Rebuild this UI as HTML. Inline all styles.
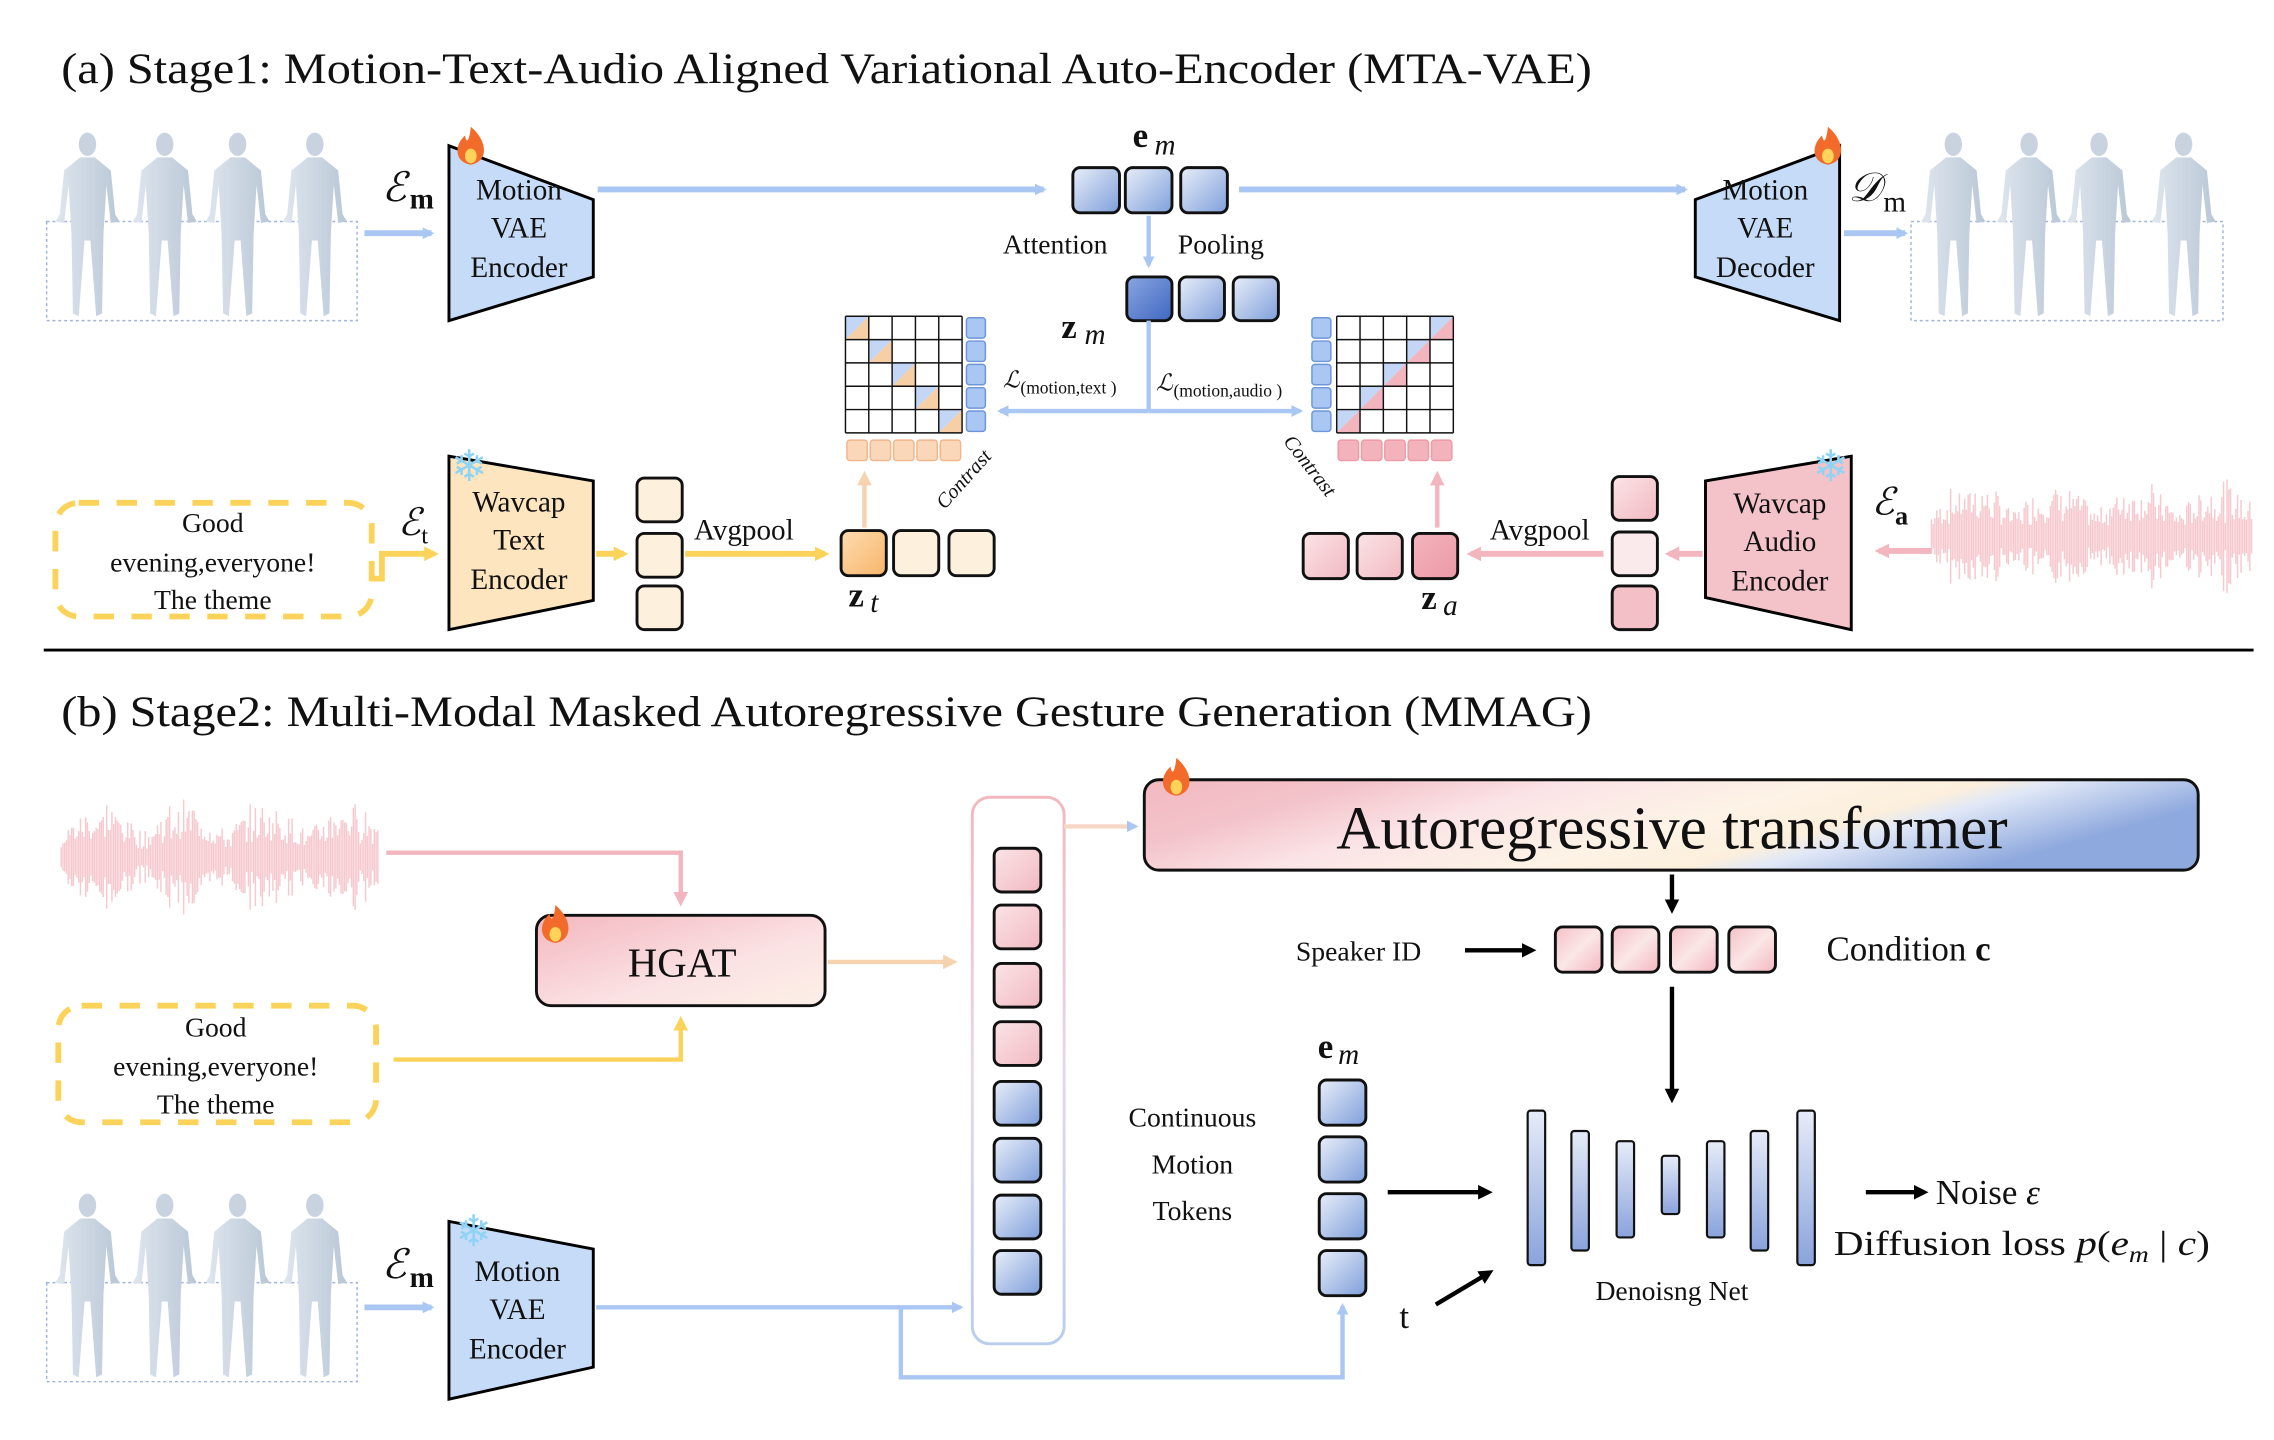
<!DOCTYPE html>
<html><head><meta charset="utf-8"><style>
html,body{margin:0;padding:0;background:#fff;}
svg{display:block;}
text{font-family:"Liberation Serif","DejaVu Serif",serif;fill:#111;}
</style></head><body>
<svg id="s" width="2274" height="1440" viewBox="0 0 1560 988" preserveAspectRatio="none" xmlns="http://www.w3.org/2000/svg" font-family="Liberation Serif, serif">
<defs>
<linearGradient id="gb" x1="0" y1="0" x2="1" y2="1"><stop offset="0" stop-color="#e8eef9"/><stop offset="1" stop-color="#7f9fdb"/></linearGradient>
<linearGradient id="gbd" x1="0" y1="0" x2="1" y2="1"><stop offset="0" stop-color="#8aa6e0"/><stop offset="1" stop-color="#3f67c2"/></linearGradient>
<linearGradient id="gbar" x1="0" y1="0" x2="0" y2="1"><stop offset="0" stop-color="#e6ecf8"/><stop offset="1" stop-color="#8aa3dc"/></linearGradient>
<linearGradient id="go" x1="0" y1="0" x2="1" y2="1"><stop offset="0" stop-color="#fef2e2"/><stop offset="1" stop-color="#fbd9ad"/></linearGradient>
<linearGradient id="god" x1="0" y1="0" x2="1" y2="1"><stop offset="0" stop-color="#fddcb0"/><stop offset="1" stop-color="#f8b56a"/></linearGradient>
<linearGradient id="gp" x1="0" y1="0" x2="1" y2="1"><stop offset="0" stop-color="#fbe4e7"/><stop offset="1" stop-color="#f1b9c1"/></linearGradient>
<linearGradient id="gpd" x1="0" y1="0" x2="1" y2="1"><stop offset="0" stop-color="#f4b5bd"/><stop offset="1" stop-color="#ec98a5"/></linearGradient>
<linearGradient id="gc" x1="0" y1="0" x2="1" y2="1"><stop offset="0" stop-color="#f5c0c8"/><stop offset="0.5" stop-color="#fbe6e6"/><stop offset="1" stop-color="#f3b7c0"/></linearGradient>
<linearGradient id="gh" x1="0" y1="0" x2="1" y2="1"><stop offset="0" stop-color="#f3b7bf"/><stop offset="0.6" stop-color="#fbe2e4"/><stop offset="1" stop-color="#fcefe6"/></linearGradient>
<linearGradient id="gar" x1="0" y1="0" x2="1" y2="0.3"><stop offset="0" stop-color="#f3b9c1"/><stop offset="0.2" stop-color="#f3c3ca"/><stop offset="0.38" stop-color="#fbe4e7"/><stop offset="0.6" stop-color="#fdf3e6"/><stop offset="0.74" stop-color="#fcefdc"/><stop offset="0.8" stop-color="#e1e8f7"/><stop offset="1" stop-color="#8ea9de"/></linearGradient>
<linearGradient id="gtall" x1="0" y1="0" x2="0" y2="1"><stop offset="0" stop-color="#f3b7bf"/><stop offset="0.5" stop-color="#e6d8ea"/><stop offset="1" stop-color="#b9cdee"/></linearGradient>
<linearGradient id="gman" x1="0" y1="0" x2="1" y2="0"><stop offset="0" stop-color="#dfe6ee"/><stop offset="1" stop-color="#b9c7d6"/></linearGradient>
<marker id="ab" markerWidth="8" markerHeight="8" refX="6" refY="4" orient="auto" markerUnits="userSpaceOnUse" viewBox="0 0 8 8"><path d="M0,0 L8,4 L0,8 z" fill="#a9c7f2"/></marker>
<marker id="ay" markerWidth="10" markerHeight="10" refX="7" refY="5" orient="auto" markerUnits="userSpaceOnUse"><path d="M0,0 L10,5 L0,10 z" fill="#fbd35a"/></marker>
<marker id="ap" markerWidth="10" markerHeight="10" refX="7" refY="5" orient="auto" markerUnits="userSpaceOnUse"><path d="M0,0 L10,5 L0,10 z" fill="#f3b5be"/></marker>
<marker id="ao" markerWidth="10" markerHeight="10" refX="7" refY="5" orient="auto" markerUnits="userSpaceOnUse"><path d="M0,0 L10,5 L0,10 z" fill="#f7d2ae"/></marker>
<marker id="ak" markerWidth="10" markerHeight="10" refX="7" refY="5" orient="auto" markerUnits="userSpaceOnUse"><path d="M0,0 L10,5 L0,10 z" fill="#000"/></marker>
<g id="man">
<ellipse cx="0" cy="-56" rx="6" ry="8" fill="#c9d3df"/>
<path d="M-5,-47 L5,-47 L16,-38 L19,-8 L22,-3 L16,-2 L13,-28 L11,5 L10,60 L6,62 L2,10 L-2,10 L-6,62 L-10,60 L-11,5 L-13,-28 L-16,-2 L-22,-3 L-19,-8 L-16,-38 z" fill="url(#gman)"/>
</g>
</defs>
<g id="wave"></g>

<text x="42" y="57" font-size="30" textLength="1050" lengthAdjust="spacingAndGlyphs">(a) Stage1: Motion-Text-Audio Aligned Variational Auto-Encoder (MTA-VAE)</text>
<line x1="30" y1="446" x2="1546" y2="446" stroke="#000" stroke-width="2"/>
<text x="42" y="498" font-size="30" textLength="1050" lengthAdjust="spacingAndGlyphs">(b) Stage2: Multi-Modal Masked Autoregressive Gesture Generation (MMAG)</text>

<rect x="32" y="152" width="213" height="68" fill="none" stroke="#9fb3dc" stroke-dasharray="2,2"/>
<use href="#man" x="60" y="155"/><use href="#man" x="113" y="155"/><use href="#man" x="163" y="155"/><use href="#man" x="216" y="155"/>
<rect x="1311" y="152" width="214" height="68" fill="none" stroke="#9fb3dc" stroke-dasharray="2,2"/>
<use href="#man" x="1340" y="155"/><use href="#man" x="1392" y="155"/><use href="#man" x="1440" y="155"/><use href="#man" x="1498" y="155"/>
<rect x="32" y="880" width="213" height="68" fill="none" stroke="#9fb3dc" stroke-dasharray="2,2"/>
<use href="#man" x="60" y="883"/><use href="#man" x="113" y="883"/><use href="#man" x="163" y="883"/><use href="#man" x="216" y="883"/>

<line x1="250" y1="160" x2="296" y2="160" stroke="#a9c7f2" stroke-width="4" marker-end="url(#ab)"/>
<text x="262" y="138" font-size="28" font-style="italic">ℰ</text><text x="281" y="143" font-size="20" font-weight="bold">m</text>
<polygon points="308,100 407,137 407,190 308,220" fill="#c6dbf7" stroke="#000" stroke-width="2"/>
<text x="356" y="137" font-size="20" text-anchor="middle">Motion</text>
<text x="356" y="163" font-size="20" text-anchor="middle">VAE</text>
<text x="356" y="190" font-size="20" text-anchor="middle">Encoder</text>
<line x1="410" y1="130" x2="716" y2="130" stroke="#a9c7f2" stroke-width="4" marker-end="url(#ab)"/>
<text x="777" y="101" font-size="24" font-weight="bold">e</text><text x="792" y="106" font-size="20" font-style="italic">m</text>
<rect x="736" y="115" width="32" height="31" rx="5" fill="url(#gb)" stroke="#111" stroke-width="2"/>
<rect x="772" y="115" width="32" height="31" rx="5" fill="url(#gb)" stroke="#111" stroke-width="2"/>
<rect x="810" y="115" width="32" height="31" rx="5" fill="url(#gb)" stroke="#111" stroke-width="2"/>
<line x1="850" y1="130" x2="1156" y2="130" stroke="#a9c7f2" stroke-width="4" marker-end="url(#ab)"/>
<polygon points="1163,137 1262,100 1262,220 1163,190" fill="#c6dbf7" stroke="#000" stroke-width="2"/>
<text x="1211" y="137" font-size="20" text-anchor="middle">Motion</text>
<text x="1211" y="163" font-size="20" text-anchor="middle">VAE</text>
<text x="1211" y="190" font-size="20" text-anchor="middle">Decoder</text>
<text x="1268" y="138" font-size="28" font-style="italic">𝒟</text><text x="1292" y="145" font-size="20">m</text>
<line x1="1265" y1="160" x2="1307" y2="160" stroke="#a9c7f2" stroke-width="4" marker-end="url(#ab)"/>
<text x="688" y="174" font-size="19">Attention</text>
<text x="808" y="174" font-size="19">Pooling</text>
<line x1="788" y1="148" x2="788" y2="182" stroke="#a9c7f2" stroke-width="3" marker-end="url(#ab)"/>
<rect x="773" y="190" width="31" height="30" rx="5" fill="url(#gbd)" stroke="#111" stroke-width="2"/>
<rect x="809" y="190" width="31" height="30" rx="5" fill="url(#gb)" stroke="#111" stroke-width="2"/>
<rect x="846" y="190" width="31" height="30" rx="5" fill="url(#gb)" stroke="#111" stroke-width="2"/>
<text x="728" y="232" font-size="24" font-weight="bold">z</text><text x="744" y="236" font-size="20" font-style="italic">m</text>
<line x1="788" y1="220" x2="788" y2="282" stroke="#a9c7f2" stroke-width="3"/>
<line x1="788" y1="282" x2="686" y2="282" stroke="#a9c7f2" stroke-width="3" marker-end="url(#ab)"/>
<line x1="788" y1="282" x2="892" y2="282" stroke="#a9c7f2" stroke-width="3" marker-end="url(#ab)"/>
<text x="688" y="266" font-size="16" font-style="italic">ℒ</text><text x="700" y="270" font-size="12">(motion,text )</text>
<text x="793" y="268" font-size="16" font-style="italic">ℒ</text><text x="805" y="272" font-size="12">(motion,audio )</text>

<g id="lm"></g>
<g id="rm"></g>
<text x="0" y="0" font-size="14" font-style="italic" transform="translate(648,350) rotate(-48)">Contrast</text>
<text x="0" y="0" font-size="14" font-style="italic" transform="translate(880,303) rotate(52)">Contrast</text>
<line x1="593" y1="362" x2="593" y2="326" stroke="#f7d2ae" stroke-width="3" marker-end="url(#ao)"/>
<line x1="986" y1="362" x2="986" y2="326" stroke="#f3b5be" stroke-width="3" marker-end="url(#ap)"/>

<rect x="38" y="345" width="217" height="78" rx="16" fill="none" stroke="#fbd35a" stroke-width="4" stroke-dasharray="14,12"/>
<text x="146" y="365" font-size="19" text-anchor="middle">Good</text>
<text x="146" y="392" font-size="19" text-anchor="middle">evening,everyone!</text>
<text x="146" y="418" font-size="19" text-anchor="middle">The theme</text>
<polyline points="255,397 262,397 262,380 298,380" fill="none" stroke="#fbd35a" stroke-width="4" marker-end="url(#ay)"/>
<text x="273" y="367" font-size="26" font-style="italic">ℰ</text><text x="289" y="373" font-size="17">t</text>
<polygon points="308,313 407,330 407,412 308,432" fill="#fde5c0" stroke="#000" stroke-width="2"/>
<text x="356" y="351" font-size="20" text-anchor="middle">Wavcap</text>
<text x="356" y="377" font-size="20" text-anchor="middle">Text</text>
<text x="356" y="404" font-size="20" text-anchor="middle">Encoder</text>
<text x="322" y="330" font-size="30" text-anchor="middle" style="fill:#8fd4f5">❄</text>
<line x1="409" y1="380" x2="428" y2="380" stroke="#fbd35a" stroke-width="4" marker-end="url(#ay)"/>
<rect x="437" y="328" width="31" height="30" rx="5" fill="#fdf0dd" stroke="#111" stroke-width="2"/>
<rect x="437" y="366" width="31" height="30" rx="5" fill="#fdf0dd" stroke="#111" stroke-width="2"/>
<rect x="437" y="402" width="31" height="30" rx="5" fill="#fdf0dd" stroke="#111" stroke-width="2"/>
<text x="476" y="370" font-size="20">Avgpool</text>
<line x1="470" y1="380" x2="566" y2="380" stroke="#fbd35a" stroke-width="4" marker-end="url(#ay)"/>
<rect x="577" y="364" width="31" height="31" rx="5" fill="url(#god)" stroke="#111" stroke-width="2"/>
<rect x="613" y="364" width="31" height="31" rx="5" fill="#fdf0dd" stroke="#111" stroke-width="2"/>
<rect x="651" y="364" width="31" height="31" rx="5" fill="#fdf0dd" stroke="#111" stroke-width="2"/>
<text x="582" y="416" font-size="24" font-weight="bold">z</text><text x="597" y="420" font-size="20" font-style="italic">t</text>

<line x1="1325" y1="378" x2="1289" y2="378" stroke="#f3b5be" stroke-width="4" marker-end="url(#ap)"/>
<text x="1284" y="353" font-size="26" font-style="italic">ℰ</text><text x="1300" y="360" font-size="18" font-weight="bold">a</text>
<polygon points="1170,330 1270,313 1270,432 1170,410" fill="#f4c2c9" stroke="#000" stroke-width="2"/>
<text x="1221" y="352" font-size="20" text-anchor="middle">Wavcap</text>
<text x="1221" y="378" font-size="20" text-anchor="middle">Audio</text>
<text x="1221" y="405" font-size="20" text-anchor="middle">Encoder</text>
<text x="1256" y="330" font-size="30" text-anchor="middle" style="fill:#8fd4f5">❄</text>
<line x1="1168" y1="380" x2="1145" y2="380" stroke="#f3b5be" stroke-width="4" marker-end="url(#ap)"/>
<rect x="1106" y="327" width="31" height="30" rx="5" fill="url(#gp)" stroke="#111" stroke-width="2"/>
<rect x="1106" y="365" width="31" height="30" rx="5" fill="#fbeaec" stroke="#111" stroke-width="2"/>
<rect x="1106" y="402" width="31" height="30" rx="5" fill="#f3c0c7" stroke="#111" stroke-width="2"/>
<text x="1022" y="370" font-size="20">Avgpool</text>
<line x1="1100" y1="380" x2="1009" y2="380" stroke="#f3b5be" stroke-width="4" marker-end="url(#ap)"/>
<rect x="894" y="366" width="31" height="31" rx="5" fill="url(#gp)" stroke="#111" stroke-width="2"/>
<rect x="931" y="366" width="31" height="31" rx="5" fill="url(#gp)" stroke="#111" stroke-width="2"/>
<rect x="969" y="366" width="31" height="31" rx="5" fill="url(#gpd)" stroke="#111" stroke-width="2"/>
<text x="975" y="418" font-size="24" font-weight="bold">z</text><text x="990" y="422" font-size="20" font-style="italic">a</text>

<polyline points="265,585 467,585 467,619" fill="none" stroke="#f3b5be" stroke-width="3" marker-end="url(#ap)"/>
<rect x="368" y="628" width="198" height="62" rx="10" fill="url(#gh)" stroke="#111" stroke-width="2"/>
<text x="468" y="670" font-size="28" text-anchor="middle">HGAT</text>
<rect x="40" y="690" width="218" height="80" rx="16" fill="none" stroke="#fbd35a" stroke-width="4" stroke-dasharray="14,12"/>
<text x="148" y="711" font-size="19" text-anchor="middle">Good</text>
<text x="148" y="738" font-size="19" text-anchor="middle">evening,everyone!</text>
<text x="148" y="764" font-size="19" text-anchor="middle">The theme</text>
<polyline points="270,727 467,727 467,700" fill="none" stroke="#fbd35a" stroke-width="3" marker-end="url(#ay)"/>
<line x1="568" y1="660" x2="654" y2="660" stroke="#f7d2ae" stroke-width="3" marker-end="url(#ao)"/>
<rect x="667" y="547" width="63" height="375" rx="12" fill="#fff" stroke="url(#gtall)" stroke-width="2"/>
<g id="tall"></g>
<line x1="730" y1="567" x2="779" y2="567" stroke="#f7d8c6" stroke-width="3" marker-end="url(#ab)"/>
<rect x="785" y="535" width="723" height="62" rx="10" fill="url(#gar)" stroke="#111" stroke-width="2"/>
<text x="1147" y="582" font-size="42" text-anchor="middle">Autoregressive transformer</text>
<line x1="1147" y1="600" x2="1147" y2="624" stroke="#000" stroke-width="3" marker-end="url(#ak)"/>
<text x="889" y="659" font-size="19">Speaker ID</text>
<line x1="1005" y1="652" x2="1051" y2="652" stroke="#000" stroke-width="3" marker-end="url(#ak)"/>
<rect x="1067" y="636" width="32" height="31" rx="5" fill="url(#gc)" stroke="#111" stroke-width="2"/>
<rect x="1106" y="636" width="32" height="31" rx="5" fill="url(#gc)" stroke="#111" stroke-width="2"/>
<rect x="1146" y="636" width="32" height="31" rx="5" fill="url(#gc)" stroke="#111" stroke-width="2"/>
<rect x="1186" y="636" width="32" height="31" rx="5" fill="url(#gc)" stroke="#111" stroke-width="2"/>
<text x="1253" y="659" font-size="24">Condition <tspan font-weight="bold">c</tspan></text>
<line x1="1147" y1="677" x2="1147" y2="754" stroke="#000" stroke-width="3" marker-end="url(#ak)"/>
<text x="904" y="726" font-size="24" font-weight="bold">e</text><text x="918" y="730" font-size="20" font-style="italic">m</text>
<rect x="905" y="741" width="32" height="31" rx="5" fill="url(#gb)" stroke="#111" stroke-width="2"/>
<rect x="905" y="780" width="32" height="31" rx="5" fill="url(#gb)" stroke="#111" stroke-width="2"/>
<rect x="905" y="819" width="32" height="31" rx="5" fill="url(#gb)" stroke="#111" stroke-width="2"/>
<rect x="905" y="858" width="32" height="31" rx="5" fill="url(#gb)" stroke="#111" stroke-width="2"/>
<text x="818" y="773" font-size="19" text-anchor="middle">Continuous</text>
<text x="818" y="805" font-size="19" text-anchor="middle">Motion</text>
<text x="818" y="837" font-size="19" text-anchor="middle">Tokens</text>
<line x1="952" y1="818" x2="1021" y2="818" stroke="#000" stroke-width="3" marker-end="url(#ak)"/>
<text x="960" y="911" font-size="24">t</text>
<line x1="985" y1="895" x2="1022" y2="873" stroke="#000" stroke-width="3" marker-end="url(#ak)"/>
<g stroke="#111" stroke-width="1.5" fill="url(#gbar)">
<rect x="1048" y="762" width="12" height="106" rx="2"/>
<rect x="1078" y="776" width="12" height="82" rx="2"/>
<rect x="1109" y="783" width="12" height="66" rx="2"/>
<rect x="1140" y="793" width="12" height="40" rx="2"/>
<rect x="1171" y="783" width="12" height="66" rx="2"/>
<rect x="1201" y="776" width="12" height="82" rx="2"/>
<rect x="1233" y="762" width="12" height="106" rx="2"/>
</g>
<text x="1147" y="892" font-size="19" text-anchor="middle">Denoisng Net</text>
<line x1="1280" y1="818" x2="1320" y2="818" stroke="#000" stroke-width="3" marker-end="url(#ak)"/>
<text x="1328" y="826" font-size="24">Noise <tspan font-style="italic">ε</tspan></text>
<text x="1258" y="861" font-size="24" textLength="258" lengthAdjust="spacingAndGlyphs">Diffusion loss <tspan font-style="italic">p</tspan>(<tspan font-style="italic">e</tspan><tspan font-size="16" font-style="italic" dy="5">m</tspan><tspan dy="-5"> | </tspan><tspan font-style="italic">c</tspan>)</text>

<line x1="250" y1="897" x2="296" y2="897" stroke="#a9c7f2" stroke-width="4" marker-end="url(#ab)"/>
<text x="262" y="877" font-size="28" font-style="italic">ℰ</text><text x="281" y="883" font-size="20" font-weight="bold">m</text>
<polygon points="308,838 407,857 407,938 308,960" fill="#c6dbf7" stroke="#000" stroke-width="2"/>
<text x="355" y="879" font-size="20" text-anchor="middle">Motion</text>
<text x="355" y="905" font-size="20" text-anchor="middle">VAE</text>
<text x="355" y="932" font-size="20" text-anchor="middle">Encoder</text>
<text x="325" y="855" font-size="30" text-anchor="middle" style="fill:#8fd4f5">❄</text>
<polyline points="409,897 659,897" fill="none" stroke="#a9c7f2" stroke-width="3" marker-end="url(#ab)"/>
<polyline points="618,897 618,945 921,945 921,896" fill="none" stroke="#a9c7f2" stroke-width="3" marker-end="url(#ab)"/>

<g id="fires"></g>
</svg>
<script>
var NS="http://www.w3.org/2000/svg";
function el(p,t,a){var e=document.createElementNS(NS,t);for(var k in a)e.setAttribute(k,a[k]);p.appendChild(e);return e;}
var w=document.getElementById('wave');
var seed=7;function r(){seed=(seed*9301+49297)%233280;return seed/233280;}
function wave(x0,x1,cy,h){for(var x=x0;x<x1;x+=1.2){var env=0.4+0.6*Math.abs(Math.sin((x-x0)/18))*(0.5+0.5*r());var hh=h*env*(0.3+0.7*r());el(w,'line',{x1:x,y1:cy-hh,x2:x,y2:cy+hh,stroke:'#f6c9cf','stroke-width':1});}}
wave(1325,1545,368,42);wave(42,260,588,42);
function mat(x0,y0,col,side,isRight){var g=document.getElementById(isRight?'rm':'lm');
 for(var i=0;i<5;i++){var d=isRight?4-i:i;var cx=x0+d*16,cy=y0+i*16;
  el(g,'polygon',{points:cx+','+cy+' '+(cx+16)+','+cy+' '+cx+','+(cy+16),fill:'#c3d6f5'});
  el(g,'polygon',{points:(cx+16)+','+cy+' '+(cx+16)+','+(cy+16)+' '+cx+','+(cy+16),fill:col});}
 for(var i=0;i<=5;i++){el(g,'line',{x1:x0+i*16,y1:y0,x2:x0+i*16,y2:y0+80,stroke:'#111','stroke-width':1});el(g,'line',{x1:x0,y1:y0+i*16,x2:x0+80,y2:y0+i*16,stroke:'#111','stroke-width':1});}
 var sx=isRight?x0-17:x0+83;
 for(var i=0;i<5;i++){el(g,'rect',{x:sx,y:y0+i*16+1,width:13,height:14,rx:2,fill:'#a9c7f2',stroke:'#6d95d8','stroke-width':1});
  el(g,'rect',{x:x0+i*16+1,y:y0+85,width:14,height:14,rx:2,fill:side,stroke:isRight?'#ef9aa6':'#f3b58a','stroke-width':1});}}
mat(580,217,'#f7cfa6','#fad7b8',false);mat(917,217,'#f2b5be','#f3b3bc',true);
var t=document.getElementById('tall');[582,621,661,701].forEach(function(y){el(t,'rect',{x:682,y:y,width:32,height:30,rx:5,fill:'url(#gp)',stroke:'#111','stroke-width':2});});
[742,781,820,858].forEach(function(y){el(t,'rect',{x:682,y:y,width:32,height:30,rx:5,fill:'url(#gb)',stroke:'#111','stroke-width':2});});
var f=document.getElementById('fires');
function fire(x,y){el(f,'path',{d:'M'+x+','+(y-16)+' C'+(x+12)+','+(y-6)+' '+(x+12)+','+(y+8)+' '+x+','+(y+10)+' C'+(x-12)+','+(y+8)+' '+(x-11)+','+(y-4)+' '+(x-4)+','+(y-10)+' C'+(x-3)+','+(y-4)+' '+(x-1)+','+(y-6)+' '+x+','+(y-16)+' z',fill:'#f26b2a'});
 el(f,'ellipse',{cx:x,cy:y+4,rx:4,ry:5,fill:'#ffd35a'});}
fire(323,103);fire(1254,103);fire(381,637);fire(807,536);
</script>
</body></html>
